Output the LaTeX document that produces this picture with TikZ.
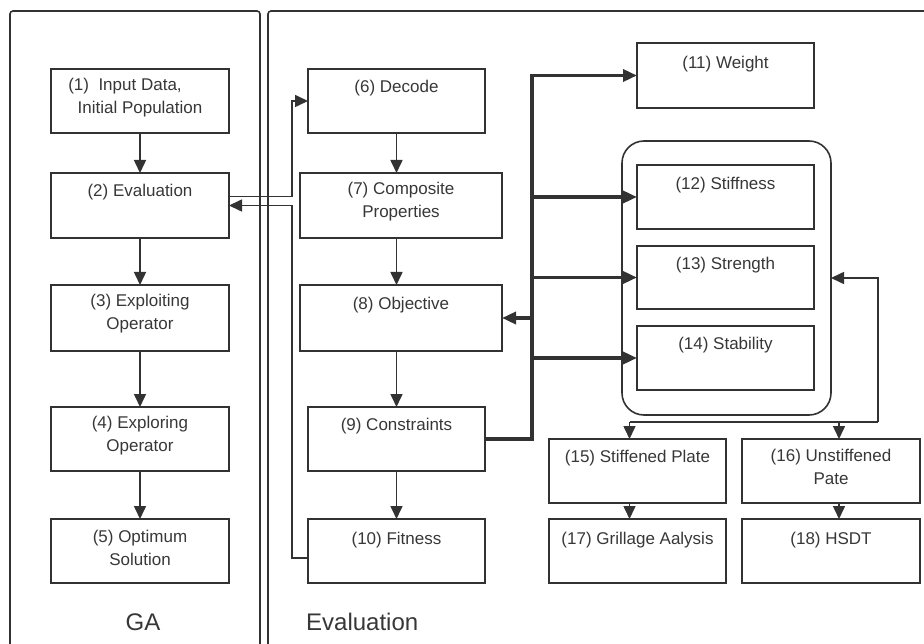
\documentclass[tikz,border=0pt]{standalone}
\usepackage{fontspec}
\setmainfont{Liberation Sans}
\usetikzlibrary{arrows.meta,calc}
\definecolor{ln}{RGB}{50,50,50}
\definecolor{tx}{RGB}{55,55,55}
\newcommand\mkbox[7]{%
  \node[box, minimum width=#4, minimum height=#5] (#1) at (#2,#3) {};
  \node[lbl,#6] (#1t) at (#1.north) {#7};}
\begin{document}
\begin{tikzpicture}[x=1pt,y=-1pt,
  box/.style={draw=ln, line width=1.6pt, rectangle, inner sep=0pt, outer sep=0pt, anchor=north west},
  lbl/.style={anchor=north, inner sep=0pt, yshift=-11pt, text=tx, font=\fontsize{17}{22.5}\selectfont, align=center},
  two/.style={yshift=2pt},
  arr/.style={draw=ln, line width=1.6pt, -{Triangle[length=13pt,width=12pt]}},
  thin/.style={draw=ln, line width=1.6pt},
  bus/.style={draw=ln, line width=3.4pt, -{Triangle[length=14pt,width=12pt]}},
  panel/.style={draw=ln, line width=1.6pt, rounded corners=3pt},
  big/.style={text=tx, font=\fontsize{24}{28}\selectfont, inner sep=0pt}
]
\useasboundingbox (0,0) rectangle (924,644);
% panels
\draw[panel] (10,644) -- (10,11) -- (260,11) -- (260,644);
\draw[panel] (268,644) -- (268,11) -- (924,11);
% GA column
\mkbox{b1}{51}{69}{178}{64}{two}{(1)\ \ Input Data,\hspace*{30pt}\\Initial Population}
\mkbox{b2}{51}{173}{178}{65}{}{(2) Evaluation}
\mkbox{b3}{51}{285}{178}{66}{two}{(3) Exploiting\\Operator}
\mkbox{b4}{51}{407}{178}{64}{two}{(4) Exploring\\Operator}
\mkbox{b5}{51}{519}{178}{64}{}{(5) Optimum\\Solution}
% Evaluation column
\mkbox{b6}{308}{69}{177}{64}{}{(6) Decode}
\mkbox{b7}{300}{173}{202}{65}{two}{(7) Composite\\Properties}
\mkbox{b8}{300}{285}{202}{66}{yshift=-1pt}{(8) Objective}
\mkbox{b9}{308}{407}{177}{64}{}{(9) Constraints}
\mkbox{b10}{308}{519}{177}{64}{yshift=-2pt}{(10) Fitness}
% right column
\node[box, rounded corners=22pt, minimum width=209, minimum height=274] (grp) at (622,141) {};
\mkbox{b11}{637}{43}{177}{65}{yshift=-2pt}{(11) Weight}
\mkbox{b12}{637}{165}{177}{64}{yshift=-1pt}{(12) Stiffness}
\mkbox{b13}{637}{246}{177}{63}{}{(13) Strength}
\mkbox{b14}{637}{326}{177}{64}{}{(14) Stability}
\mkbox{b15}{549}{439}{177}{64}{}{(15) Stiffened Plate}
\mkbox{b16}{742}{439}{178}{64}{yshift=1pt}{(16) Unstiffened\\Pate}
\mkbox{b17}{549}{519}{177}{64}{yshift=-2pt}{(17) Grillage Aalysis}
\mkbox{b18}{742}{519}{178}{64}{yshift=-2pt}{(18) HSDT}
% labels
\node[big] (ga) at (143,622) {GA};
\node[big, anchor=west] (ev) at (306,622) {Evaluation};
% GA arrows
\draw[arr] (b1) -- (b2);
\draw[arr] (b2) -- (b3);
\draw[arr] (b3) -- (b4);
\draw[arr] (b4) -- (b5);
% evaluation arrows
\draw[arr] (b6.south) -- (b6.south |- b7.north);
\draw[arr] (b6.south |- b7.south) -- (b6.south |- b8.north);
\draw[arr] (b9.north |- b8.south) -- (b9.north);
\draw[arr] (b9) -- (b10);
% GA <-> evaluation
\draw[arr] ($(b2.east)+(0,-9)$) -| ($(b6.west)+(-16,0)$) -- (b6.west);
\draw[arr] ($(b10.west)+(0,7)$) -| ($(b2.east)+(63,0)$) -- (b2.east);
% bus
\coordinate (busx) at (532,0);
\draw[bus] (b9.east) -| (busx |- b11.west) -- (b11.west);
\draw[bus] (busx |- b12.west) -- (b12.west);
\draw[bus] (busx |- b13.west) -- (b13.west);
\draw[bus] (busx |- b14.west) -- (b14.west);
\draw[bus] ($(busx |- b8.east)+(1.7,0)$) -- (b8.east);
% feedback
\coordinate (fbL) at ($(b15.north)+(-8,-17)$);
\coordinate (fbR) at ($(b16.north)+(47,-17)$);
\draw[thin] (fbL) -- (fbR);
\draw[arr] (fbR) |- (grp.east);
\draw[arr] (fbL) -- (fbL |- b15.north);
\draw[arr] ($(b16.north)+(8,-17)$) -- ($(b16.north)+(8,0)$);
\draw[arr] ($(b15.south)+(-8,0)$) -- ($(b17.north)+(-8,0)$);
\draw[arr] ($(b16.south)+(8,0)$) -- ($(b18.north)+(8,0)$);
\end{tikzpicture}
\end{document}
